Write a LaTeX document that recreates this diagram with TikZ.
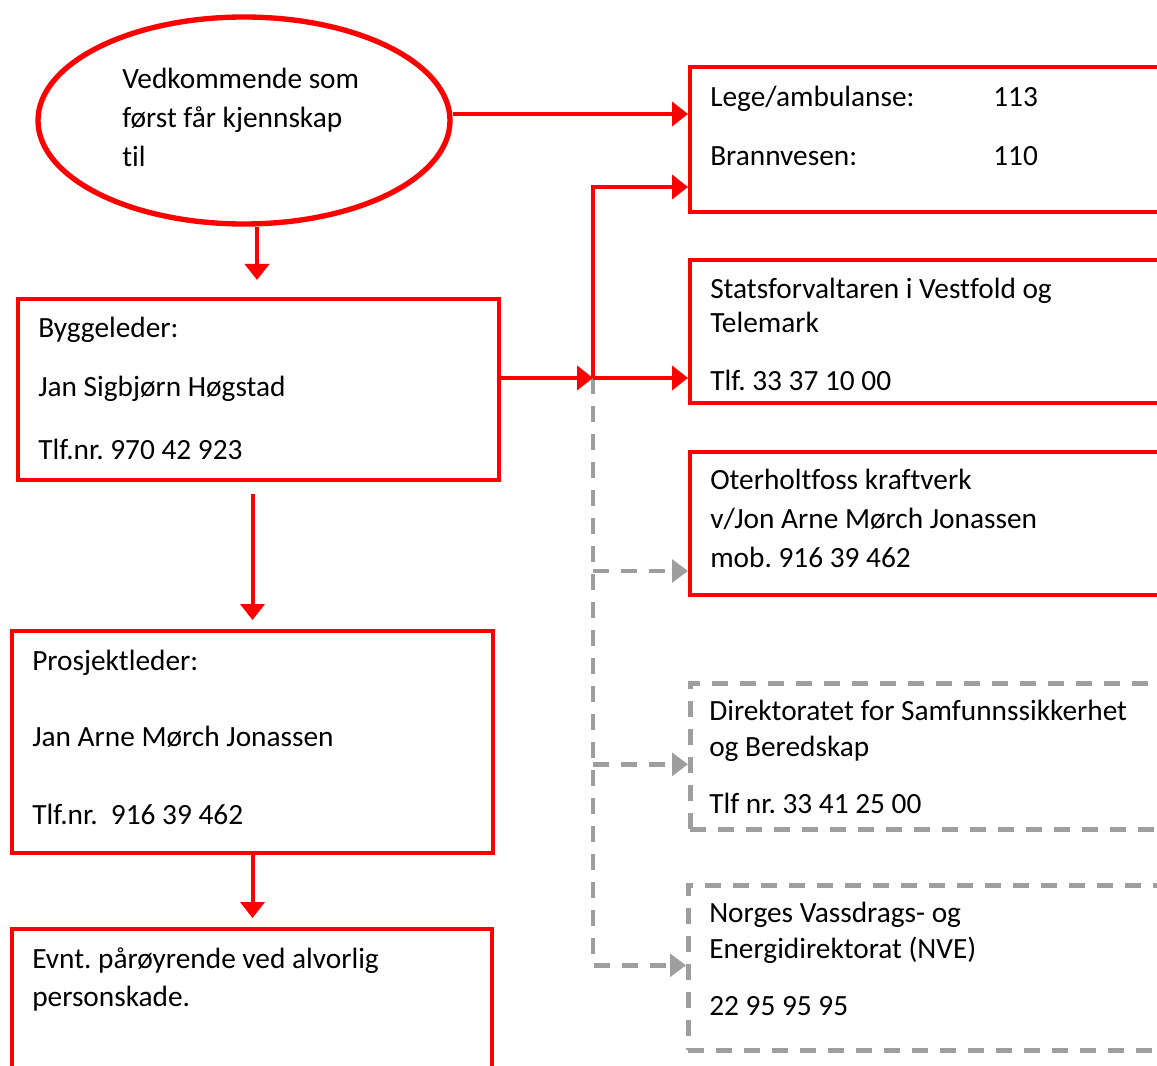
\documentclass[tikz,border=0pt]{standalone}
\usepackage{fontspec}
\setmainfont{Carlito}[Ligatures={NoCommon}]
\usetikzlibrary{shapes.geometric,arrows.meta}
\definecolor{lred}{RGB}{255,0,0}
\definecolor{lgray}{RGB}{158,158,158}
\frenchspacing
\begin{document}
\begin{tikzpicture}[x=0.75pt,y=-0.75pt,
 redline/.style={draw=lred,line width=3pt},
 grayline/.style={draw=lgray,line width=3.5pt,dash pattern=on 12pt off 9pt},
 rarr/.style={redline,-{Triangle[length=12pt,width=18pt]}},
 garr/.style={grayline,-{Triangle[length=12pt,width=17pt,fill=lgray]}},
 box/.style={rectangle,redline,anchor=north west,inner sep=0pt},
 dbox/.style={rectangle,grayline,anchor=north west,inner sep=0pt},
 txt/.style={anchor=west,inner sep=0pt,text height=16pt,text depth=1.8pt,font=\fontsize{22}{26}\selectfont}]
\clip (0,0) rectangle (1157,1066);
\fill[white] (0,0) rectangle (1157,1066);

% shapes
\node[ellipse,draw=lred,line width=4pt,minimum width=309pt,minimum height=155.25pt,inner sep=0pt] (ell) at (244,120.5) {};
\node[box,minimum width=360.75pt,minimum height=135.75pt] (bygg) at (16,297) {};
\node[box,minimum width=360.75pt,minimum height=166.5pt] (prosj) at (10,629) {};
\node[box,minimum width=360pt,minimum height=129.75pt] (evnt) at (10,927) {};
\node[box,minimum width=369pt,minimum height=108.75pt] (b1) at (688,65) {};
\node[box,minimum width=369pt,minimum height=107.25pt] (b2) at (688,258) {};
\node[box,minimum width=369pt,minimum height=107.25pt] (b3) at (688,450) {};
\node[dbox,minimum width=369pt,minimum height=109.5pt] (b4) at (688,681) {};
\node[dbox,minimum width=370.5pt,minimum height=123.75pt] (b5) at (686,883) {};

% texts
\node[txt] (t1) at (122,79) {Vedkommende som};
\node[txt] (t2) at (122,118) {først får kjennskap};
\node[txt] (t3) at (122,157) {til};

\node[txt] (t4) at (38,328) {Byggeleder:};
\node[txt] (t5) at (38,387) {Jan Sigbjørn Høgstad};
\node[txt] (t6) at (38,450) {Tlf.nr. 970 42 923};

\node[txt] (t7) at (32,661) {Prosjektleder:};
\node[txt] (t8) at (32,737) {Jan Arne Mørch Jonassen};
\node[txt] (t9) at (32,815) {Tlf.nr.\ \ 916 39 462};

\node[txt] (t10) at (32,959) {Evnt. pårøyrende ved alvorlig};
\node[txt] (t11) at (32,997) {personskade.};

\node[txt] (t12) at (710,97) {Lege/ambulanse:};
\node[txt] (t13) at (993,97) {113};
\node[txt] (t14) at (710,156) {Brannvesen:};
\node[txt] (t15) at (993,156) {110};

\node[txt] (t16) at (710,289) {Statsforvaltaren i Vestfold og};
\node[txt] (t17) at (710,323) {Telemark};
\node[txt] (t18) at (710,381) {Tlf. 33 37 10 00};

\node[txt] (t19) at (710,480) {Oterholtfoss kraftverk};
\node[txt] (t20) at (710,519) {v/Jon Arne Mørch Jonassen};
\node[txt] (t21) at (710,558) {mob. 916 39 462};

\node[txt] (t22) at (709,711) {Direktoratet for Samfunnssikkerhet};
\node[txt] (t23) at (709,747) {og Beredskap};
\node[txt] (t24) at (709,804) {Tlf nr. 33 41 25 00};

\node[txt] (t25) at (709,913) {Norges Vassdrags- og};
\node[txt] (t26) at (709,949) {Energidirektorat (NVE)};
\node[txt] (t27) at (709,1006) {22 95 95 95};

% connector points
\coordinate (J) at (593,378);
\coordinate (b1in) at ([yshift=-35.625pt]b1.west);
\coordinate (b3in) at ([yshift=-35.625pt]b3.west);
\coordinate (b4in) at ([yshift=-6pt]b4.west);
\coordinate (b5in) at ([yshift=1.875pt]b5.west);

% gray dashed connectors
\draw[garr] (J) |- (b5in);
\draw[garr] (J |- b3in) -- (b3in);
\draw[garr] (J |- b4in) -- (b4in);

% red connectors
\draw[rarr] ([yshift=4.875pt]ell.east) -- ([yshift=4.875pt]ell.east -| b1.west);
\draw[rarr,shorten >=12.75pt] ([xshift=9.75pt]ell.south) -- ([xshift=9.75pt]ell.south |- bygg.north);
\draw[rarr] (bygg.east |- J) -- (J);
\draw[rarr] (J) |- (b1in);
\draw[rarr] (J) -- (J -| b2.west);
\draw[rarr,shorten <=9pt,shorten >=6.75pt] (bygg.south -| prosj.north) -- (prosj.north);
\draw[rarr,shorten >=6.75pt] (prosj.south) -- (prosj.south |- evnt.north);
\end{tikzpicture}
\end{document}
